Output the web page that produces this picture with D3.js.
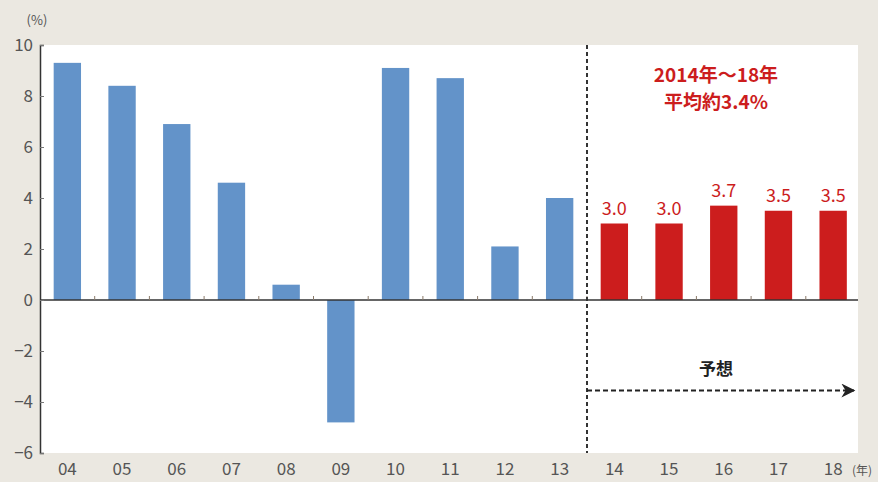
<!DOCTYPE html>
<html>
<head>
<meta charset="utf-8">
<script src="https://cdn.jsdelivr.net/npm/d3@7"></script>
<style>
  body { margin: 0; background: #ebe8e1; }
  svg { display: block; font-family: "Noto Sans CJK JP", "DejaVu Sans", sans-serif; }
</style>
</head>
<body>
<svg id="chart" width="878" height="482"></svg>
<script>
const years = ['04', '05', '06', '07', '08', '09', '10', '11', '12', '13', '14', '15', '16', '17', '18'];
const growth = [9.3, 8.4, 6.9, 4.6, 0.6, -4.8, 9.1, 8.7, 2.1, 4.0, 3.0, 3.0, 3.7, 3.5, 3.5];
const forecastYears = ['14', '15', '16', '17', '18'];
const yTicks = [-6, -4, -2, 0, 2, 4, 6, 8, 10];

const plot = { left: 40, right: 858, top: 45, bottom: 453 };
const svg = d3.select('#chart');

const x = d3.scaleBand()
    .domain(years)
    .range([plot.left, plot.left + 15 * 54.7])
    .paddingInner(0.5)
    .paddingOuter(0.25);

const y = d3.scaleLinear()
    .domain([-6, 10])
    .range([plot.bottom, plot.top]);

// white plot area
svg.append('rect')
    .attr('x', plot.left)
    .attr('y', plot.top)
    .attr('width', plot.right - plot.left)
    .attr('height', plot.bottom - plot.top)
    .attr('fill', '#fff');

const data = years.map((yr, i) => ({ yr, v: growth[i], forecast: forecastYears.includes(yr) }));

// bars
svg.selectAll('rect.bar')
    .data(data)
    .enter()
    .append('rect')
    .attr('class', 'bar')
    .attr('x', d => x(d.yr))
    .attr('y', d => y(Math.max(0, d.v)))
    .attr('width', x.bandwidth())
    .attr('height', d => Math.abs(y(d.v) - y(0)))
    .attr('fill', d => d.forecast ? '#cc1d1d' : '#6393c9');

// value labels on forecast bars
svg.selectAll('text.val')
    .data(data.filter(d => d.forecast))
    .enter()
    .append('text')
    .attr('class', 'val')
    .attr('x', d => x(d.yr) + x.bandwidth() / 2)
    .attr('y', d => y(d.v) - 9)
    .attr('text-anchor', 'middle')
    .attr('font-size', 18)
    .attr('fill', '#cc1d1d')
    .text(d => d.v.toFixed(1));

// zero line with small ticks between bars
const step = x.step();
svg.append('line')
    .attr('x1', plot.left).attr('x2', plot.right)
    .attr('y1', y(0)).attr('y2', y(0))
    .attr('stroke', '#333').attr('stroke-width', 1.5);

svg.selectAll('line.midtick')
    .data(years.slice(1))
    .enter()
    .append('line')
    .attr('class', 'midtick')
    .attr('x1', d => x(d) - (step - x.bandwidth()) / 2)
    .attr('x2', d => x(d) - (step - x.bandwidth()) / 2)
    .attr('y1', y(0) - 4).attr('y2', y(0))
    .attr('stroke', '#8a7a6a').attr('stroke-width', 1);

// y axis
const yAxis = svg.append('g')
    .attr('transform', `translate(${plot.left},0)`)
    .call(d3.axisRight(y).tickValues(yTicks).tickSize(4).tickFormat(''));
yAxis.select('.domain').attr('stroke', '#333').attr('stroke-width', 1.5);
yAxis.selectAll('.tick line').attr('stroke', '#777');

svg.selectAll('text.ylab')
    .data(yTicks)
    .enter()
    .append('text')
    .attr('class', 'ylab')
    .attr('x', 33)
    .attr('y', d => y(d) + 6)
    .attr('text-anchor', 'end')
    .attr('font-size', 17)
    .attr('fill', '#555')
    .text(d => d < 0 ? '\u2212' + Math.abs(d) : d);

svg.append('text')
    .attr('x', 37).attr('y', 25)
    .attr('text-anchor', 'middle')
    .attr('font-size', 13)
    .attr('fill', '#555')
    .text('(%)');

// x labels
svg.selectAll('text.xlab')
    .data(years)
    .enter()
    .append('text')
    .attr('class', 'xlab')
    .attr('x', d => x(d) + x.bandwidth() / 2)
    .attr('y', 475)
    .attr('text-anchor', 'middle')
    .attr('font-size', 17)
    .attr('fill', '#555')
    .text(d => d);

svg.append('text')
    .attr('x', 862).attr('y', 475)
    .attr('text-anchor', 'middle')
    .attr('font-size', 12)
    .attr('fill', '#555')
    .text('(年)');

// forecast divider
const divX = x('14') - (step - x.bandwidth()) / 2;
svg.append('line')
    .attr('x1', divX).attr('x2', divX)
    .attr('y1', plot.top).attr('y2', plot.bottom)
    .attr('stroke', '#333').attr('stroke-width', 2)
    .attr('stroke-dasharray', '4,3');

// forecast arrow
const arrowY = y(-3.55);
svg.append('defs').append('marker')
    .attr('id', 'arrow')
    .attr('viewBox', '0 0 10 10')
    .attr('refX', 9).attr('refY', 5)
    .attr('markerWidth', 8).attr('markerHeight', 7)
    .attr('markerUnits', 'strokeWidth')
    .attr('orient', 'auto')
    .append('path')
    .attr('d', 'M0,0 L10,5 L0,10 L3,5 Z')
    .attr('fill', '#222');

svg.append('line')
    .attr('x1', divX).attr('x2', 854)
    .attr('y1', arrowY).attr('y2', arrowY)
    .attr('stroke', '#222').attr('stroke-width', 2)
    .attr('stroke-dasharray', '5,3')
    .attr('marker-end', 'url(#arrow)');

svg.append('text')
    .attr('x', 716).attr('y', arrowY - 16)
    .attr('text-anchor', 'middle')
    .attr('font-size', 17)
    .attr('font-weight', 'bold')
    .attr('fill', '#222')
    .text('予想');

// average annotation
svg.append('text')
    .attr('x', 716).attr('y', 82)
    .attr('text-anchor', 'middle')
    .attr('font-size', 19)
    .attr('font-weight', 'bold')
    .attr('fill', '#cc1d1d')
    .text('2014年～18年');

svg.append('text')
    .attr('x', 716).attr('y', 109)
    .attr('text-anchor', 'middle')
    .attr('font-size', 19)
    .attr('font-weight', 'bold')
    .attr('fill', '#cc1d1d')
    .text('平均約3.4%');
</script>
</body>
</html>
